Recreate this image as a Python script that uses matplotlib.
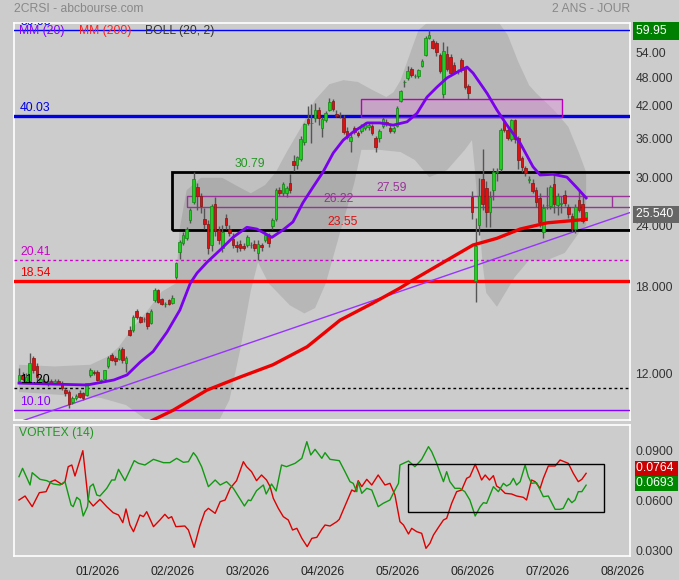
import matplotlib
matplotlib.use("Agg")
import matplotlib.pyplot as plt
from matplotlib.patches import Rectangle
from matplotlib.ticker import NullLocator

plt.rcParams['font.family'] = ['Liberation Sans', 'DejaVu Sans']

# ---------------- data ----------------
opens = [11.6, 11.9, 11.6, 11.6, 12.9, 12.4, 11.5, 11.6, 11.4, 11.6,
         11.5, 11.6, 11.45, 11.1, 11.0, 10.5, 10.7, 10.95, 10.95, 10.85,
         11.9, 12.1, 12.1, 11.6, 11.7, 12.4, 13.1, 12.9, 12.85, 13.45,
         12.6, 14.7, 14.7, 16.1, 15.6, 15.5, 15.9, 15.2, 16.9, 17.7,
         17.0, 16.6, 16.9, 16.7,
         18.85, 21.2, 22.1, 22.6, 24.6, 26.8,
         28.8, 27.6, 24.7, 24.2, 21.9, 26.5, 23.5, 21.6, 24.9, 23.6,
         22.5, 21.95, 22.0, 21.8, 21.9, 21.9, 22.0, 21.1, 21.9, 22.4,
         22.9, 23.9, 24.7, 28.4, 28.0, 28.0, 29.3, 32.5, 31.8, 32.8,
         35.4, 39.5, 38.8,
         39.7, 41.3, 37.8, 39.3, 41.3, 43.0, 40.5,
         40.3, 39.7, 37.3, 35.7, 37.9, 37.0, 37.3, 37.9, 38.0, 38.2,
         36.1, 36.2, 38.2, 39.0, 37.9, 37.3, 38.2, 43.0, 46.9, 47.8,
         50.0, 48.3, 48.3, 50.7, 53.4, 57.8, 57.0, 56.4, 53.3, 44.5,
         53.6, 52.8, 50.9, 49.4, 52.1, 50.1, 46.1,
         27.4, 18.5, 24.0,
         29.9, 28.6, 25.6, 28.3, 30.9, 31.3, 38.9, 37.6, 35.9, 39.3,
         36.1, 32.9, 31.4, 29.7, 29.3, 28.4, 27.3, 23.3, 26.4, 26.3,
         29.1, 26.4, 26.6, 27.7, 26.2, 25.1, 23.6, 27.0, 26.6, 24.8]
closes = [11.9, 11.7, 11.8, 12.6, 12.2, 11.8, 11.7, 11.5, 11.6, 11.5,
          11.6, 11.5, 11.2, 10.95, 10.4, 10.7, 10.8, 10.75, 10.7, 11.45,
          12.2, 12.0, 11.65, 11.6, 12.2, 12.9, 12.8, 12.7, 13.4, 12.8,
          12.9, 14.4, 15.6, 15.6, 15.3, 15.5, 15.0, 16.1, 17.7, 16.8,
          16.6, 16.6, 16.6, 17.1,
          20.1, 22.2, 23.0, 23.6, 25.8, 29.9,
          27.6, 26.3, 24.2, 21.6, 26.3, 23.4, 22.4, 23.3, 24.0, 23.2,
          21.9, 21.7, 21.6, 21.6, 22.7, 21.9, 21.6, 22.0, 21.7, 23.0,
          22.1, 24.6, 28.4, 28.0, 29.2, 28.6, 28.3, 31.9, 33.0, 36.0,
          38.6, 38.7, 38.8,
          41.2, 39.7, 39.5, 40.7, 42.7, 41.5, 40.0,
          40.3, 37.1, 36.3, 36.4, 37.1, 36.7, 38.2, 38.6, 38.4, 37.0,
          34.6, 37.4, 39.5, 38.6, 37.3, 37.9, 41.7, 45.1, 46.9, 49.4,
          48.6, 48.3, 49.6, 51.8, 57.8, 58.6, 55.2, 54.0, 49.5, 54.4,
          50.0, 49.0, 49.2, 49.4, 49.7, 45.9, 44.6,
          25.6, 21.8, 27.5,
          26.6, 25.6, 27.4, 30.8, 30.9, 37.6, 37.6, 36.2, 39.3, 35.9,
          32.6, 31.6, 30.7, 29.9, 28.2, 26.8, 24.4, 26.0, 26.4, 28.7,
          26.5, 27.6, 26.6, 26.7, 25.3, 23.6, 26.2, 25.8, 24.5, 25.54]
highs = [12.3, 12.1, 12.0, 13.2, 13.0, 12.6, 11.8, 11.7, 11.7, 11.7,
         11.7, 11.7, 11.6, 11.2, 11.1, 10.8, 10.9, 11.1, 11.0, 11.5,
         12.3, 12.2, 12.2, 11.7, 12.2, 13.0, 13.2, 13.0, 13.5, 13.6,
         13.0, 15.0, 15.8, 16.2, 15.7, 15.6, 16.0, 16.2, 17.9, 17.8,
         17.1, 16.8, 17.0, 17.3,
         20.2, 22.4, 23.3, 23.8, 26.0, 30.79,
         29.3, 28.0, 26.0, 24.6, 26.5, 27.4, 23.9, 24.0, 25.3, 24.0,
         23.2, 22.3, 22.4, 22.1, 23.0, 22.2, 22.4, 22.4, 22.1, 23.3,
         23.2, 24.8, 28.6, 28.8, 29.4, 28.9, 30.5, 33.4, 33.3, 36.5,
         38.8, 42.0, 42.3,
         42.5, 41.8, 39.8, 41.0, 43.5, 43.3, 41.3,
         40.8, 40.3, 38.0, 36.8, 38.3, 37.4, 38.6, 39.0, 38.7, 38.6,
         36.5, 37.7, 39.8, 39.5, 38.4, 38.3, 41.9, 45.3, 47.5, 50.7,
         50.5, 48.9, 50.0, 52.4, 58.3, 59.95, 57.6, 57.0, 53.8, 56.8,
         55.6, 53.5, 51.5, 50.0, 52.6, 50.5, 46.6,
         28.2, 24.9, 30.0,
         34.4, 29.6, 28.2, 31.4, 31.4, 37.9, 39.4, 38.2, 39.6, 39.6,
         36.5, 33.2, 31.7, 30.2, 29.8, 28.7, 28.0, 26.5, 28.8, 29.0,
         30.6, 28.0, 27.6, 28.3, 26.5, 25.5, 26.6, 28.3, 27.6, 25.6]
lows = [11.5, 11.6, 11.5, 11.5, 12.0, 11.6, 11.4, 11.4, 11.3, 11.4,
        11.4, 11.4, 11.1, 10.8, 10.2, 10.4, 10.6, 10.7, 10.6, 10.8,
        11.8, 11.9, 11.6, 11.5, 11.6, 12.3, 12.7, 12.5, 12.8, 12.6,
        12.1, 14.3, 14.6, 15.5, 15.2, 15.3, 14.8, 15.1, 16.8, 16.7,
        16.5, 16.4, 16.5, 16.6,
        18.7, 20.5, 21.9, 22.4, 24.3, 26.5,
        25.8, 25.4, 23.6, 21.0, 21.3, 22.8, 22.0, 21.2, 23.6, 22.8,
        21.6, 21.2, 21.3, 21.4, 21.7, 21.6, 21.3, 20.4, 21.3, 22.2,
        21.7, 23.6, 24.5, 27.5, 27.6, 27.4, 27.9, 31.0, 31.3, 32.5,
        35.0, 38.4, 35.3,
        39.0, 38.5, 36.3, 38.9, 41.0, 41.0, 39.8,
        39.7, 36.8, 35.9, 33.9, 36.8, 36.4, 37.0, 37.6, 37.6, 36.6,
        33.9, 35.5, 37.9, 38.2, 37.0, 37.0, 38.0, 42.7, 46.0, 47.4,
        48.2, 47.8, 47.9, 50.4, 53.0, 57.5, 54.8, 53.0, 49.1, 43.6,
        49.5, 48.5, 48.8, 48.9, 49.2, 45.4, 43.4,
        24.7, 16.8, 23.0,
        25.8, 23.8, 23.8, 27.0, 29.5, 31.0, 37.2, 35.8, 35.6, 35.3,
        31.3, 30.8, 30.2, 29.3, 27.9, 26.2, 23.8, 22.6, 25.9, 25.9,
        25.5, 25.2, 25.4, 26.3, 24.8, 23.3, 23.2, 25.6, 24.3, 24.6]

# moving averages (read at sample points: candle index, value)
mm20_idx = [0, 9, 19.1, 26.6, 30.3, 34.0, 37.6, 41.5, 45.1, 48.0, 49.9, 52.7, 56.4,
            60.0, 63.9, 66.7, 70.9, 74.0, 76.8, 79.6, 82.4, 85.2, 88.1, 90.9, 93.7,
            97.6, 101.2, 104.9, 108.8, 111.6, 114.4, 117.2, 120.0, 122.8, 125.6,
            127.3, 131.2, 134.0, 136.8, 140.5, 144.1, 146.1, 149.7, 153.6, 156.5, 159]
mm20 = [11.47, 11.42, 11.37, 11.64, 11.92, 12.66, 13.3, 14.57, 16.15, 18.3, 19.2, 20.2,
        21.4, 22.7, 23.8, 23.6, 22.7, 23.5, 24.4, 26.7, 28.7, 30.8, 33.7, 35.8, 37.2,
        38.8, 38.8, 38.4, 39.0, 40.6, 43.8, 45.9, 47.9, 49.2, 50.4,
        49.0, 44.6, 41.2, 38.4, 35.3, 31.6, 30.4, 30.5, 30.1, 28.6, 27.3]
mm200_idx = [35, 43.2, 52.7, 62.0, 71.2, 80.8, 90.0, 99.3, 106.8, 110.5, 120.0,
             127.3, 134.0, 140.5, 148.1, 153.7, 159]
mm200 = [9.45, 10.1, 11.1, 11.8, 12.5, 13.6, 15.4, 16.7, 17.9, 18.6, 20.4,
         21.9, 22.6, 23.6, 24.3, 24.5, 24.7]

# Bollinger (20, 2) envelope
boll_up_idx = [0, 10, 20, 25, 28, 32, 36, 40, 44, 45, 47, 51, 57, 61, 65, 69, 72, 75, 79, 83,
               87, 91, 95, 99, 103, 105, 107, 110, 112, 116, 120, 126, 134, 137, 140, 143,
               145, 150, 154, 157, 159]
boll_up = [12.5, 12.4, 12.5, 13.0, 13.6, 14.9, 16.1, 17.6, 18.3, 23.5, 28.3, 30.0, 30.0,
           28.9, 27.9, 29.0, 30.8, 33.8, 37.9, 43.2, 46.5, 47.4, 47.0, 45.3, 43.8, 44.8,
           47.4, 54.6, 59.9, 63.4, 65.8, 66.5, 62.8, 58.6, 51.6, 46.3, 44.6, 41.2, 38.1,
           33.7, 30.8]
boll_lo_idx = [0, 12, 23, 30, 35, 40, 48, 55, 59, 62, 65, 67, 70, 76, 80, 83, 86, 90, 94, 96,
               101, 107, 111, 115, 120, 125, 127, 128, 130, 131, 134, 139, 143, 148, 153,
               157, 159]
boll_lo = [11.0, 10.85, 10.7, 10.35, 9.74, 9.12, 8.58, 9.29, 10.6, 13.4, 17.7, 20.2, 18.3,
           16.5, 15.9, 16.3, 18.3, 23.2, 29.3, 34.2, 34.2, 33.85, 32.6, 30.1, 31.1, 34.2,
           35.8, 30.0, 20.0, 17.5, 16.4, 18.85, 20.4, 20.4, 21.1, 23.2, 24.05]

# horizontal levels
level_vals = [59.95, 40.03, 20.41, 18.54, 11.20, 10.10]
level_colors = ['#0000ff', '#0000e6', '#cc00cc', '#ff0000', '#000000', '#8800ff']
level_widths = [1.0, 2.4, 1.0, 2.4, 1.0, 1.0]
level_styles = ['-', '-', (0, (2, 2)), '-', (0, (2, 2)), '-']

# zones
zone_black = (42.8, 23.55, 30.79)     # start index, low, high
zone_purple = (47.2, 166.2, 26.22, 27.59)
zone_pink = (95.9, 152.2, 39.9, 43.3)
trend_idx = [0, 172]
trend_val = [9.56, 25.6]

# Vortex (14)
vip_idx = [0, 1.0, 3.1, 3.7, 5.9, 7.8, 9.6, 11.5, 12.9, 14.6, 15.2, 16.2, 17.1, 18.0, 19.2,
           19.9, 20.8, 21.8, 22.7, 24.6, 26.0, 26.9, 27.9, 29.7, 31.1, 32.3, 33.5, 35.3,
           37.7, 40.5, 42.3, 44.2, 46.1, 47.5, 48.9, 49.8, 51.2, 53.1, 55.0, 56.4, 58.2,
           60.1, 63.2, 64.3, 65.0, 66.6, 68.5, 69.3, 70.8, 72.1, 73.6, 75.0, 77.4, 79.3,
           80.7, 81.8, 83.0, 84.9, 85.8, 87.2, 89.8,
           91.4, 92.8, 93.7, 94.7, 95.1, 96.1, 97.5, 98.9, 100.7, 102.1, 104.0, 105.4,
           106.4, 106.8, 109.2, 111.0, 112.9, 114.8, 115.7, 117.1, 119.0, 119.9, 120.8,
           122.2, 123.6, 125.0, 126.4, 127.9, 129.3, 130.2, 131.1, 133.0, 134.4, 135.8,
           136.7, 137.7, 138.6, 139.5, 140.5, 141.9, 142.8, 143.7, 145.1, 147.0, 148.4,
           150.3, 151.7, 152.6, 154.0, 155.0, 155.9, 156.8, 157.8, 159]
vip = [0.0744, 0.0794, 0.0694, 0.0768, 0.0728, 0.072, 0.070, 0.0694, 0.0714, 0.0574,
       0.0564, 0.062, 0.0604, 0.0508, 0.0564, 0.0684, 0.070, 0.0634, 0.0628, 0.0674,
       0.0724, 0.0724, 0.0788, 0.072, 0.0784, 0.084, 0.0824, 0.0814, 0.0848, 0.0828,
       0.0828, 0.0854, 0.083, 0.0834, 0.0888, 0.0864, 0.0804, 0.0684, 0.0724, 0.0694,
       0.0714, 0.0674, 0.0568, 0.0604, 0.060, 0.066, 0.0694, 0.064, 0.070, 0.0658,
       0.0814, 0.0804, 0.0824, 0.0854, 0.0954, 0.0874, 0.0908, 0.0854, 0.0888, 0.0848,
       0.084,
       0.0774, 0.0714, 0.0704, 0.0654, 0.0714, 0.0644, 0.0674, 0.0664, 0.0564, 0.0584,
       0.0604, 0.0664, 0.0704, 0.0814, 0.0838, 0.0804, 0.0848, 0.0924, 0.0894, 0.0824,
       0.0714, 0.0774, 0.0714, 0.0674, 0.0674, 0.0654, 0.0604, 0.0508, 0.0564, 0.0588,
       0.0584, 0.0684, 0.0654, 0.0704, 0.0688, 0.070, 0.0734, 0.0694, 0.0714, 0.0814,
       0.0744, 0.0704, 0.0708, 0.0624, 0.0628, 0.0548, 0.0548, 0.0554, 0.0614, 0.0588,
       0.0604, 0.0654, 0.0654, 0.0693]
vim_idx = [0, 1.7, 3.7, 5.7, 7.6, 8.9, 10.1, 12.0, 12.9, 13.8, 14.8, 15.7, 17.9, 18.5,
           19.4, 20.8, 22.7, 24.6, 26.4, 27.9, 29.1, 30.0, 31.1, 32.1, 33.2, 33.9, 34.9,
           35.8, 37.7, 39.5, 40.9, 41.9, 42.8, 44.0, 46.5, 47.5, 49.1, 50.7, 52.1, 53.1,
           55.0, 56.4, 57.8, 59.2, 61.0, 62.9, 63.8, 65.2, 66.6, 68.0, 69.4, 70.4, 71.3,
           72.7, 74.1, 75.5, 76.7, 77.9, 79.3, 80.8, 82.1, 83.5, 84.9, 85.8, 87.2, 89.1,
           89.8,
           90.9, 92.3, 93.3, 94.2, 95.1, 96.1, 97.5, 98.9, 100.7, 102.6, 104.0, 105.4,
           106.8, 107.8, 109.2, 110.1, 111.5, 112.9, 114.1, 115.2, 116.2, 117.6, 119.0,
           119.9, 121.3, 122.7, 124.1, 125.5, 126.4, 127.9, 128.8, 129.7, 130.7, 131.9,
           133.0, 133.9, 134.9, 136.3, 138.1, 139.5, 141.4, 142.3, 143.7, 144.7, 146.1,
           147.0, 148.4, 150.3, 151.7, 154.0, 155.4, 156.8, 157.8, 159]
vim = [0.0604, 0.0628, 0.0564, 0.0648, 0.0654, 0.0714, 0.0724, 0.0698, 0.0714, 0.0804,
       0.0814, 0.0748, 0.090, 0.0784, 0.0604, 0.0568, 0.0608, 0.0564, 0.0528, 0.0514,
       0.0468, 0.055, 0.0454, 0.0414, 0.0474, 0.0514, 0.0504, 0.0534, 0.0444, 0.0484,
       0.0518, 0.0494, 0.0504, 0.0444, 0.0448, 0.0424, 0.032, 0.0448, 0.0534, 0.0554,
       0.0524, 0.0594, 0.0604, 0.0674, 0.072, 0.0834, 0.0804, 0.0774, 0.072, 0.0754,
       0.0724, 0.0684, 0.0614, 0.0554, 0.0504, 0.0484, 0.0424, 0.0434, 0.0374, 0.0324,
       0.0374, 0.038, 0.0428, 0.0454, 0.0448, 0.0474, 0.0488,
       0.0544, 0.0614, 0.0664, 0.0654, 0.072, 0.0684, 0.0728, 0.0694, 0.0754, 0.0694,
       0.0704, 0.0634, 0.0474, 0.0454, 0.040, 0.0434, 0.0414, 0.0404, 0.0314, 0.0344,
       0.0394, 0.044, 0.0484, 0.0494, 0.0584, 0.0654, 0.0664, 0.0734, 0.0744, 0.0818,
       0.0774, 0.0724, 0.0754, 0.0724, 0.075, 0.0688, 0.0674, 0.0644, 0.064, 0.0628,
       0.062, 0.0604, 0.0724, 0.0714, 0.0674, 0.0734, 0.0808, 0.0808, 0.0844, 0.0824,
       0.0764, 0.0714, 0.0728, 0.0764]
vortex_box = (109.2, 164.1, 0.053, 0.0818)

month_pos = [22.1, 43.1, 64.1, 85.2, 106.2, 127.2, 148.3, 169.3]
month_labels = ['01/2026', '02/2026', '03/2026', '04/2026', '05/2026', '06/2026', '07/2026', '08/2026']
price_ticks = [12, 18, 24, 30, 36, 42, 48, 54]
price_tick_labels = ['12.000', '18.000', '24.000', '30.000', '36.000', '42.000', '48.000', '54.00']
vortex_ticks = [0.03, 0.06, 0.09]
vortex_tick_labels = ['0.0300', '0.0600', '0.0900']

# ---------------- figure ----------------
W, H = 679, 580
BG = '#cccccc'
FS = 8.7
fig = plt.figure(figsize=(W / 100, H / 100), dpi=100, facecolor=BG)
ax = fig.add_axes([14 / W, 1 - 420 / H, 616 / W, 397 / H])
axv = fig.add_axes([14 / W, 1 - 556 / H, 616 / W, 131 / H])
for a in (ax, axv):
    a.set_facecolor(BG)
    for s in a.spines.values():
        s.set_color('white')
        s.set_linewidth(1.2)
    a.set_xlim(-1.4, 171.3)
    a.tick_params(length=0, labelsize=FS, labelcolor='#333333', pad=3.8)
    a.yaxis.tick_right()

ax.set_yscale('log')
ax.set_ylim(9.65, 61.95)
ax.yaxis.set_minor_locator(NullLocator())
ax.set_yticks(price_ticks)
ax.set_yticklabels(price_tick_labels)
ax.set_xticks([])

# Bollinger envelope
poly_x = list(boll_up_idx) + list(boll_lo_idx)[::-1]
poly_y = list(boll_up) + list(boll_lo)[::-1]
ax.fill(poly_x, poly_y, color='#b7b7b7', lw=0, zorder=1)

# zones
ax.add_patch(Rectangle((zone_black[0], zone_black[1]), 200, zone_black[2] - zone_black[1],
                       facecolor='black', alpha=0.06, edgecolor='none', zorder=1.5))
ax.add_patch(Rectangle((zone_black[0], zone_black[1]), 200, zone_black[2] - zone_black[1],
                       facecolor='none', edgecolor='black', lw=2, zorder=3.2))
ax.hlines(zone_black[1], 85, 175, color='#ee0000', lw=1.2, zorder=3.1)
ax.add_patch(Rectangle((zone_purple[0], zone_purple[2]), 200, zone_purple[3] - zone_purple[2],
                       facecolor='none', edgecolor='#993399', lw=1, zorder=3.1))
ax.vlines(zone_purple[1], zone_purple[2], zone_purple[3], color='#993399', lw=1, zorder=3.1)
ax.add_patch(Rectangle((zone_pink[0], zone_pink[2]), zone_pink[1] - zone_pink[0],
                       zone_pink[3] - zone_pink[2], facecolor='#dd88dd', alpha=0.4,
                       edgecolor='none', zorder=2))
ax.add_patch(Rectangle((zone_pink[0], zone_pink[2]), zone_pink[1] - zone_pink[0],
                       zone_pink[3] - zone_pink[2], facecolor='none',
                       edgecolor='#bb00bb', lw=1, zorder=3.1))

# levels
for v, c, w, st in zip(level_vals, level_colors, level_widths, level_styles):
    ax.axhline(v, color=c, lw=w, ls=st, zorder=3)
    ax.annotate(f'{v:.2f}', xy=(0.3, v), xytext=(0, 2), textcoords='offset pixels',
                ha='left', va='bottom', color=c if c != '#ff0000' else '#ee0000',
                fontsize=FS, zorder=6, annotation_clip=False, clip_on=True)

# trend line
ax.plot(trend_idx, trend_val, color='#9933ff', lw=1, zorder=3)

# candles
idx = list(range(len(closes)))
ax.vlines(idx, lows, highs, color='#555555', lw=1, zorder=4)
bottoms = [min(o, c) for o, c in zip(opens, closes)]
heights = [max(abs(c - o), 0.02) for o, c in zip(opens, closes)]
fcols = ['#22cc22' if c >= o else '#dd1111' for o, c in zip(opens, closes)]
ecols = ['#118811' if c >= o else '#881111' for o, c in zip(opens, closes)]
ax.bar(idx, heights, bottom=bottoms, width=0.72, color=fcols, edgecolor=ecols,
       linewidth=0.5, zorder=4.5)

# moving averages
ax.plot(mm200_idx, mm200, color='#ee0000', lw=2.4, zorder=5)
ax.plot(mm20_idx, mm20, color='#7a00ee', lw=2.0, zorder=5.2)

# zone labels
ax.annotate(f'{zone_black[2]:.2f}', xy=(64.8, zone_black[2]), xytext=(0, 2),
            textcoords='offset pixels', ha='center', va='bottom', color='#229922', fontsize=FS)
ax.annotate(f'{zone_black[1]:.2f}', xy=(90.6, zone_black[1]), xytext=(0, 2),
            textcoords='offset pixels', ha='center', va='bottom', color='#dd1111', fontsize=FS)
ax.annotate(f'{zone_purple[3]:.2f}', xy=(104.6, zone_purple[3]), xytext=(0, 2),
            textcoords='offset pixels', ha='center', va='bottom', color='#993399', fontsize=FS)
ax.annotate(f'{zone_purple[2]:.2f}', xy=(89.5, zone_purple[2]), xytext=(0, 2),
            textcoords='offset pixels', ha='center', va='bottom', color='#993399', fontsize=FS)

# legend line
ax.text(5.3 / 616, 1 - 8 / 397, 'MM (20)', transform=ax.transAxes, color='#8800ff',
        fontsize=FS, va='center', ha='left', zorder=7)
ax.text(65 / 616, 1 - 8 / 397, 'MM (200)', transform=ax.transAxes, color='#ff2222',
        fontsize=FS, va='center', ha='left', zorder=7)
ax.text(131 / 616, 1 - 8 / 397, 'BOLL (20, 2)', transform=ax.transAxes, color='#333333',
        fontsize=FS, va='center', ha='left', zorder=7)

# right-hand value markers
ax.annotate(f'{max(highs):.2f}   ', xy=(1, max(highs)), xycoords=('axes fraction', 'data'),
            xytext=(6, -1), textcoords='offset pixels', va='center', ha='left', color='white',
            fontsize=FS, annotation_clip=False,
            bbox=dict(boxstyle='square,pad=0.22', fc='#008000', ec='none'))
ax.annotate(f'{closes[-1]:.3f} ', xy=(1, closes[-1]), xycoords=('axes fraction', 'data'),
            xytext=(6, -2), textcoords='offset pixels', va='center', ha='left', color='white',
            fontsize=FS, annotation_clip=False,
            bbox=dict(boxstyle='square,pad=0.22', fc='#666666', ec='none'))

# ---------------- vortex panel ----------------
axv.set_ylim(0.0268, 0.1054)
axv.set_yticks(vortex_ticks)
axv.set_yticklabels(vortex_tick_labels)
axv.set_xticks(month_pos)
axv.set_xticklabels(month_labels, color='#222222')
axv.tick_params(axis='x', pad=7)
axv.plot(vim_idx, vim, color='#dd0000', lw=1, zorder=3)
axv.plot(vip_idx, vip, color='#119911', lw=1, zorder=3)
axv.add_patch(Rectangle((vortex_box[0], vortex_box[2]), vortex_box[1] - vortex_box[0],
                        vortex_box[3] - vortex_box[2], fill=False, edgecolor='black', lw=1,
                        zorder=4))
axv.text(5 / 616, 1 - 8.3 / 131, 'VORTEX (14)', transform=axv.transAxes, color='#229922',
         fontsize=FS, va='center', ha='left')
axv.annotate(f'{vim[-1]:.4f} ', xy=(1, vim[-1]), xycoords=('axes fraction', 'data'),
             xytext=(6, 5), textcoords='offset pixels', va='center', ha='left', color='white',
             fontsize=FS, annotation_clip=False,
             bbox=dict(boxstyle='square,pad=0.12', fc='#cc0000', ec='none'))
axv.annotate(f'{vip[-1]:.4f} ', xy=(1, vip[-1]), xycoords=('axes fraction', 'data'),
             xytext=(6, 2), textcoords='offset pixels', va='center', ha='left', color='white',
             fontsize=FS, annotation_clip=False,
             bbox=dict(boxstyle='square,pad=0.12', fc='#008800', ec='none'))

# header
fig.text(14 / W, 1 - 9 / H, '2CRSI - abcbourse.com', color='#888888', fontsize=FS,
         va='center', ha='left')
fig.text(630 / W, 1 - 9 / H, '2 ANS - JOUR', color='#888888', fontsize=FS,
         va='center', ha='right')

fig.savefig('out.png', dpi=100, facecolor=BG)
